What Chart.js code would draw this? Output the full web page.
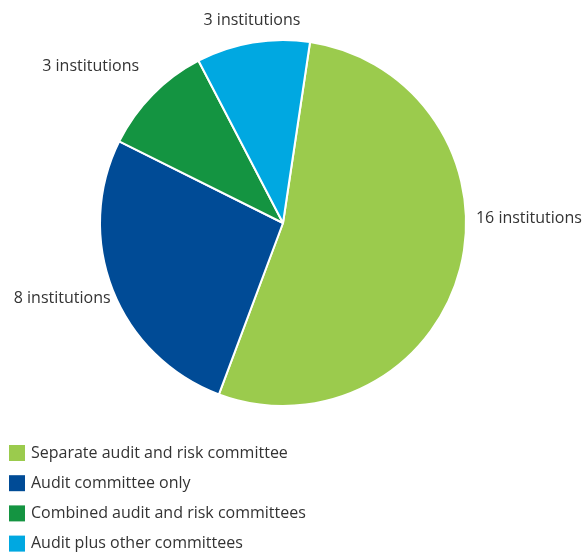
<!DOCTYPE html>
<html>
<head>
<meta charset="utf-8">
<script src="https://cdn.jsdelivr.net/npm/chart.js@4"></script>
<style>
html,body{margin:0;padding:0;background:#fff;}
#wrap{width:583px;height:552px;position:relative;}
</style>
</head>
<body>
<div id="wrap"><canvas id="c"></canvas></div>
<script>
const categories = ["Separate audit and risk committee", "Audit committee only", "Combined audit and risk committees", "Audit plus other committees"];
const values = [16, 8, 3, 3];
const valueLabels = ["16 institutions", "8 institutions", "3 institutions", "3 institutions"];
const colors = ["#9BCB4D", "#004B96", "#149441", "#00A8E1"];

// label placement style: angle nudge (deg) and gap from rim (px)
const labelStyle = [
  {nudge: -16, gap: 10},
  {nudge: -2, gap: 5},
  {nudge: 3, gap: 30},
  {nudge: 0.8, gap: 22}
];
const FONT = "'Open Sans', sans-serif";
const TEXT = "#333333";

const outLabels = {
  id: 'outLabels',
  afterDatasetsDraw(chart) {
    const ctx = chart.ctx;
    const meta = chart.getDatasetMeta(0);
    ctx.save();
    ctx.font = "16px " + FONT;
    ctx.fillStyle = TEXT;
    ctx.textBaseline = 'middle';
    meta.data.forEach((arc, i) => {
      const p = arc.getProps(['x','y','startAngle','endAngle','outerRadius'], true);
      const mid = (p.startAngle + p.endAngle) / 2 + labelStyle[i].nudge * Math.PI / 180;
      const R = p.outerRadius + labelStyle[i].gap;
      const x = p.x + R * Math.cos(mid);
      const y = p.y + R * Math.sin(mid);
      const c = Math.cos(mid);
      ctx.textAlign = c > 0.3 ? 'left' : (c < -0.3 ? 'right' : 'center');
      ctx.fillText(valueLabels[i], x, y);
    });
    ctx.restore();
  }
};

const sideLegend = {
  id: 'sideLegend',
  afterDraw(chart) {
    const ctx = chart.ctx;
    ctx.save();
    ctx.font = "16px " + FONT;
    ctx.textBaseline = 'middle';
    ctx.textAlign = 'left';
    const top = 453, step = 30.2;
    categories.forEach((name, i) => {
      const y = top + i * step;
      ctx.fillStyle = colors[i];
      ctx.fillRect(9, y - 8, 16, 16);
      ctx.fillStyle = TEXT;
      ctx.fillText(name, 31, y);
    });
    ctx.restore();
  }
};

new Chart(document.getElementById('c'), {
  type: 'pie',
  data: {
    labels: categories,
    datasets: [{
      data: values,
      backgroundColor: colors,
      borderColor: '#ffffff',
      borderWidth: 2
    }]
  },
  options: {
    responsive: true,
    maintainAspectRatio: false,
    animation: false,
    rotation: 8.5,
    layout: {padding: {left: 99, right: 116, top: 39, bottom: 145}},
    plugins: {
      legend: {display: false},
      tooltip: {enabled: false}
    }
  },
  plugins: [outLabels, sideLegend]
});
</script>
</body>
</html>
